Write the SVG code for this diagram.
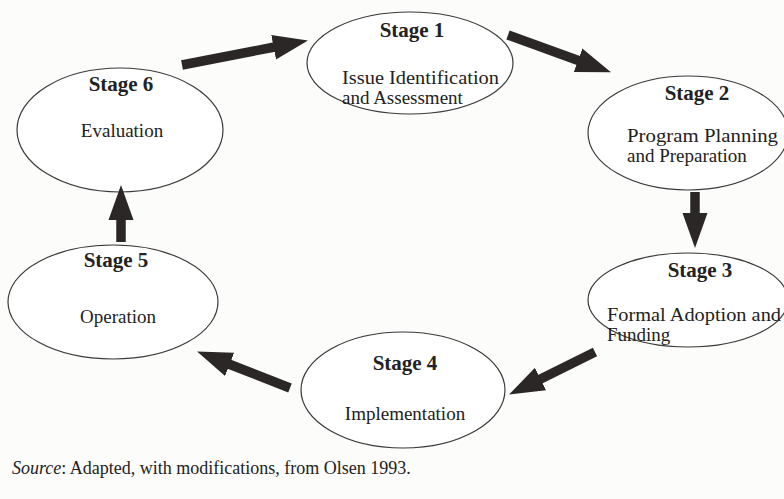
<svg xmlns="http://www.w3.org/2000/svg" width="784" height="499" viewBox="0 0 784 499">
<style>
.node ellipse{fill:#ffffff;stroke:#3a3a3a;stroke-width:1.2}
.t{font-family:"Liberation Serif","Times New Roman",serif;font-weight:bold;font-size:21px;fill:#222}
.b{font-family:"Liberation Serif","Times New Roman",serif;font-size:19px;fill:#222}
.s{font-family:"Liberation Serif","Times New Roman",serif;font-size:18px;fill:#222}
.conn line{stroke:#2b2727;stroke-width:9.5;marker-end:url(#head)}
</style>
<defs>
<marker id="head" markerUnits="userSpaceOnUse" markerWidth="36" markerHeight="28" viewBox="0 -14 36 28" refX="1" refY="0" orient="auto">
<path d="M0,-12.5 L35,0 L0,12.5 z" fill="#2b2727"/>
</marker>
</defs>
<rect width="784" height="499" fill="#fcfcfb"/>
<g id="stage1" class="node">
<ellipse cx="410" cy="63" rx="103" ry="51"/>
<text class="t" x="412" y="37" text-anchor="middle">Stage 1</text>
<text class="b" x="342" y="84" textLength="157" lengthAdjust="spacingAndGlyphs">Issue Identification</text>
<text class="b" x="342" y="104">and Assessment</text>
</g>
<g id="stage2" class="node">
<ellipse cx="688" cy="133" rx="100" ry="57"/>
<text class="t" x="697" y="100" text-anchor="middle">Stage 2</text>
<text class="b" x="627" y="142" textLength="151" lengthAdjust="spacingAndGlyphs">Program Planning</text>
<text class="b" x="627" y="162">and Preparation</text>
</g>
<g id="stage3" class="node">
<ellipse cx="688" cy="300" rx="100" ry="47"/>
<text class="t" x="700" y="277" text-anchor="middle">Stage 3</text>
<text class="b" x="607" y="321" textLength="174" lengthAdjust="spacingAndGlyphs">Formal Adoption and</text>
<text class="b" x="607" y="341">Funding</text>
</g>
<g id="stage4" class="node">
<ellipse cx="403" cy="390" rx="102" ry="58"/>
<text class="t" x="405" y="370" text-anchor="middle">Stage 4</text>
<text class="b" x="405" y="420" text-anchor="middle">Implementation</text>
</g>
<g id="stage5" class="node">
<ellipse cx="113" cy="302" rx="105" ry="57"/>
<text class="t" x="116" y="267" text-anchor="middle">Stage 5</text>
<text class="b" x="118" y="323" text-anchor="middle">Operation</text>
</g>
<g id="stage6" class="node">
<ellipse cx="120" cy="130" rx="103" ry="62"/>
<text class="t" x="121" y="91" text-anchor="middle">Stage 6</text>
<text class="b" x="122" y="137" text-anchor="middle">Evaluation</text>
</g>
<g id="connectors" class="conn">
<line x1="182" y1="65" x2="274.6" y2="47"/>
<line x1="508" y1="35" x2="579" y2="60.7"/>
<line x1="695" y1="192" x2="695" y2="214"/>
<line x1="595" y1="352" x2="539.6" y2="379.4"/>
<line x1="290" y1="388" x2="228.7" y2="364"/>
<line x1="121" y1="242" x2="121" y2="219"/>
</g>
<text class="s" x="12" y="474"><tspan font-style="italic">Source</tspan>: Adapted, with modifications, from Olsen 1993.</text>
</svg>
